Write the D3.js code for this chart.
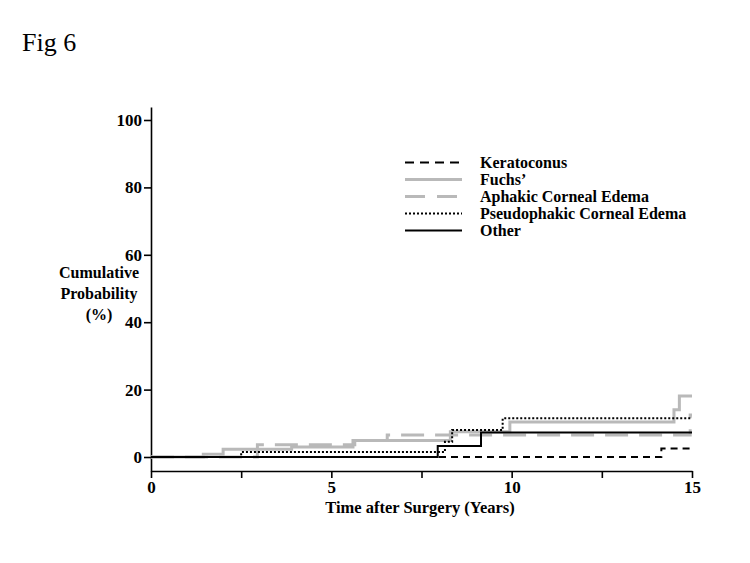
<!DOCTYPE html>
<html>
<head>
<meta charset="utf-8">
<script src="https://cdn.jsdelivr.net/npm/d3@7"></script>
<style>
    body { margin: 0; background: #fff; }
    svg text { font-family: 'Liberation Serif', 'Times New Roman', serif; }
</style>
</head>
<body>
<div id="chart"></div>
<script>
// Datos (curvas escalonadas de Kaplan-Meier)
let seriesNames = ['Keratoconus', 'Fuchs\u2019', 'Aphakic Corneal Edema', 'Pseudophakic Corneal Edema', 'Other'];

let keratoconusT = [0, 14.15];
let keratoconusV = [0, 2.5];

let fuchsT = [0, 1.45, 2.0, 3.9, 5.6, 8.3, 9.95, 14.5, 14.65];
let fuchsV = [0, 0.8, 2.3, 3.0, 4.9, 7.5, 10.4, 14, 18.1];

let aphakicT = [0, 2.95, 5.65, 6.55, 14.95];
let aphakicV = [0, 3.6, 4.9, 6.5, 12.5];

let pseudoT = [0, 2.5, 8.15, 8.35, 9.75];
let pseudoV = [0, 1.5, 4.5, 8.0, 11.5];

let otherT = [0, 7.95, 9.15];
let otherV = [0, 3.3, 7.3];

let endTime = 15;
let xTicks = [0, 2.5, 5, 7.5, 10, 12.5, 15];
let yTicks = [0, 20, 40, 60, 80, 100];

let gray = '#b9b9b9';
let styles = [
    {color: '#000', width: 2, dash: '7,5'},
    {color: gray, width: 3, dash: null},
    {color: gray, width: 3, dash: '23,11'},
    {color: '#000', width: 2, dash: '2,2'},
    {color: '#000', width: 2, dash: null}
];

function toSteps(t, v) {
    let pts = t.map(function(d, i) { return {t: d, v: v[i]}; });
    pts.push({t: endTime, v: v[v.length - 1]});
    return pts;
}

let data = [
    toSteps(keratoconusT, keratoconusV),
    toSteps(fuchsT, fuchsV),
    toSteps(aphakicT, aphakicV),
    toSteps(pseudoT, pseudoV),
    toSteps(otherT, otherV)
];

let svg = d3.select('#chart').append('svg')
    .attr('width', 750)
    .attr('height', 563);

svg.append('text')
    .attr('x', 22).attr('y', 51)
    .attr('font-size', 26)
    .text('Fig 6');

let x = d3.scaleLinear().domain([0, 15]).range([151, 692]);
let y = d3.scaleLinear().domain([0, 100]).range([457, 120]);
let yAxisScale = d3.scaleLinear().domain([y.invert(471), y.invert(107)]).range([471, 107]);

//Ejes
let xAxis = svg.append('g')
    .attr('transform', 'translate(0,471)')
    .call(d3.axisBottom(x).tickValues(xTicks).tickSize(7).tickSizeOuter(0)
        .tickFormat(function(d) { return d % 5 === 0 ? d : ''; }));
xAxis.select('.domain').attr('stroke-width', 1.6);
xAxis.selectAll('.tick line').attr('stroke-width', 1.6);
xAxis.selectAll('.tick text')
    .attr('font-family', 'Liberation Serif').attr('font-weight', 'bold')
    .attr('font-size', 17).attr('fill', '#000').attr('y', 10).attr('dy', '0.71em');

let yAxis = svg.append('g')
    .attr('transform', 'translate(151,0)')
    .call(d3.axisLeft(yAxisScale).tickValues(yTicks).tickSize(7).tickSizeOuter(0));
yAxis.select('.domain').attr('stroke-width', 1.6);
yAxis.selectAll('.tick line').attr('stroke-width', 1.6);
yAxis.selectAll('.tick text')
    .attr('font-family', 'Liberation Serif').attr('font-weight', 'bold')
    .attr('font-size', 17).attr('fill', '#000').attr('x', -9);

//Títulos de ejes
svg.append('text')
    .attr('x', 420).attr('y', 513)
    .attr('text-anchor', 'middle')
    .attr('font-weight', 'bold').attr('font-size', 16.5)
    .text('Time after Surgery (Years)');

let yTitle = svg.append('text')
    .attr('text-anchor', 'middle')
    .attr('font-weight', 'bold').attr('font-size', 16);
['Cumulative', 'Probability', '(%)'].forEach(function(s, i) {
    yTitle.append('tspan').attr('x', 99).attr('y', 278 + i * 21).text(s);
});

//Curvas
let line = d3.line()
    .x(function(d) { return x(d.t); })
    .y(function(d) { return y(d.v); })
    .curve(d3.curveStepAfter);

let order = [1, 2, 0, 3, 4];
order.forEach(function(i) {
    svg.append('path')
        .datum(data[i])
        .attr('fill', 'none')
        .attr('stroke', styles[i].color)
        .attr('stroke-width', styles[i].width)
        .attr('stroke-dasharray', styles[i].dash)
        .attr('d', line);
});

//Leyenda
let legend = svg.append('g');
seriesNames.forEach(function(name, i) {
    let yy = 162.5 + i * 17;
    legend.append('line')
        .attr('x1', 405).attr('x2', 462)
        .attr('y1', yy).attr('y2', yy)
        .attr('stroke', styles[i].color)
        .attr('stroke-width', styles[i].width)
        .attr('stroke-dasharray', i === 2 ? '20,12' : (i === 0 ? '9,6' : styles[i].dash));
    legend.append('text')
        .attr('x', 480).attr('y', yy + 5)
        .attr('font-weight', 'bold').attr('font-size', 16)
        .text(name);
});
</script>
</body>
</html>
